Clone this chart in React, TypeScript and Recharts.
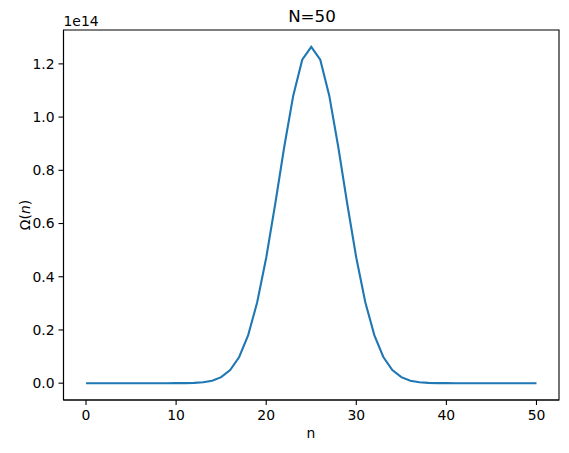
import React from "react";
import { LineChart, Line, XAxis, YAxis, ReferenceArea, Customized } from "recharts";

const nValues: number[] = [
  0, 1, 2, 3, 4, 5, 6, 7, 8, 9, 10, 11, 12, 13, 14, 15, 16, 17, 18, 19, 20, 21, 22, 23, 24, 25,
  26, 27, 28, 29, 30, 31, 32, 33, 34, 35, 36, 37, 38, 39, 40, 41, 42, 43, 44, 45, 46, 47, 48, 49, 50,
];

// Omega(n) in units of 1e13 (converted to 1e14 below)
const omegaValues: number[] = [
  0.0, 0.0, 0.0, 0.0, 0.0, 0.0000002, 0.0000016, 0.00001, 0.0000537, 0.00025, 0.00103,
  0.0037, 0.0121, 0.0355, 0.0938, 0.2251, 0.4924, 0.9847, 1.8054, 3.0406, 4.7129,
  6.7327, 8.875, 10.8043, 12.1549, 12.6411,
  12.1549, 10.8043, 8.875, 6.7327, 4.7129, 3.0406, 1.8054, 0.9847, 0.4924, 0.2251,
  0.0938, 0.0355, 0.0121, 0.0037, 0.00103, 0.00025, 0.0000537, 0.00001, 0.0000016, 0.0000002,
  0.0, 0.0, 0.0, 0.0, 0.0,
].map((v) => v / 10);

const xTicks: number[] = [0, 10, 20, 30, 40, 50];
const yTicks: number[] = [0, 0.2, 0.4, 0.6, 0.8, 1.0, 1.2];

const data = nValues.map((n, i) => ({ n, omega: omegaValues[i] }));

const FONT = "DejaVu Sans";
const X_DOMAIN: [number, number] = [-2.5, 52.5];
const Y_DOMAIN: [number, number] = [-0.0632, 1.3273];

const Annotations = () => (
  <g fontFamily={FONT} fill="#000">
    <text x={312} y={22} fontSize={16.7} textAnchor="middle">N=50</text>
    <text x={63.5} y={26} fontSize={13.9} textAnchor="start">1e14</text>
    <text x={311} y={438} fontSize={13.9} textAnchor="middle">n</text>
    <text x={30} y={215} fontSize={13.9} textAnchor="middle" transform="rotate(-90 30 215)">
      Ω(<tspan fontStyle="italic">n</tspan>)
    </text>
  </g>
);

export default function App() {
  return (
    <div style={{ position: "absolute", left: 0, top: 0 }}>
      <LineChart
        width={569}
        height={453}
        data={data}
        margin={{ top: 30, right: 10, bottom: 0, left: 8 }}
      >
        <XAxis
          dataKey="n"
          type="number"
          domain={X_DOMAIN}
          ticks={xTicks}
          allowDataOverflow
          height={53}
          tickSize={5}
          tickMargin={5}
          stroke="#000"
          strokeWidth={1.1}
          tick={{ fill: "#000", fontSize: 13.9, fontFamily: FONT }}
        />
        <YAxis
          type="number"
          domain={Y_DOMAIN}
          ticks={yTicks}
          allowDataOverflow
          width={55.5}
          tickSize={5}
          tickMargin={4}
          stroke="#000"
          strokeWidth={1.1}
          tickFormatter={(v: number) => v.toFixed(1)}
          tick={{ fill: "#000", fontSize: 13.9, fontFamily: FONT }}
        />
        <ReferenceArea
          x1={X_DOMAIN[0]}
          x2={X_DOMAIN[1]}
          y1={Y_DOMAIN[0]}
          y2={Y_DOMAIN[1]}
          stroke="#000"
          strokeWidth={1.1}
          fill="none"
          fillOpacity={0}
          strokeOpacity={1}
          ifOverflow="visible"
        />
        <Line
          type="linear"
          dataKey="omega"
          stroke="#1f77b4"
          strokeWidth={2.1}
          dot={false}
          isAnimationActive={false}
        />
        <Customized component={Annotations} />
      </LineChart>
    </div>
  );
}
